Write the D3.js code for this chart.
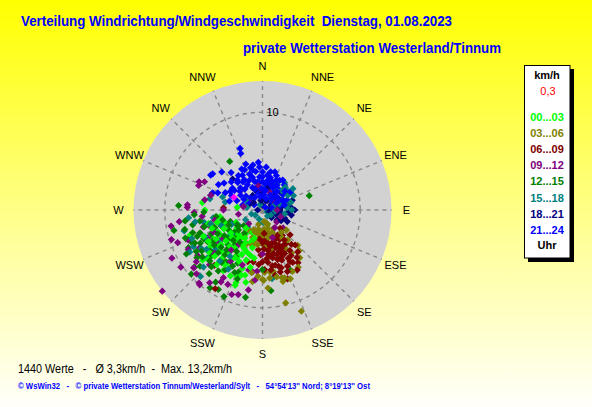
<!DOCTYPE html>
<html>
<head>
<meta charset="utf-8">
<script src="https://cdn.jsdelivr.net/npm/d3@7"></script>
<style>
    html, body { margin: 0; padding: 0; overflow: hidden; }
    svg { display: block; }
    text { font-family: "Liberation Sans", Arial, sans-serif; }
</style>
</head>
<body>
<div id="wind-chart"></div>
<script>
/*
    WINDVERTEILUNG - wind direction / speed scatter
    each value: [direction in degrees, speed in km/h]
*/
const compassLabels = ["N", "NNE", "NE", "ENE", "E", "ESE", "SE", "SSE",
    "S", "SSW", "SW", "WSW", "W", "WNW", "NW", "NNW"]
const ringValues = [10]
const maxSpeed = 13.2
const hourLabels = ["00...03", "03...06", "06...09", "09...12", "12...15", "15...18", "18...21", "21...24"]
const hourColors = ["#00ff00", "#808000", "#800000", "#800080", "#008000", "#008080", "#000080", "#0000ff"]

const h00_03 = [[270,5.9],[261,4.4],[232,4.5],[223,4.4],[208,5.5],[214,6.5],[200,8.2],[213,7.4],[221,5.1],[230,6.0],
    [244,5.1],[241,5.9],[199,6.3],[195,4.8],[209,5.3],[195,6.9],[200,7.9],[193,7.6],[261,4.7],[256,5.7],[251,7.8],
    [220,7.3],[277,6.2],[276,2.6],[240,4.0],[253,4.7],[250,7.9],[230,8.0],[201,7.3],[215,3.0],[225,3.5],[235,3.2],
    [205,2.5],[245,3.0],[220,4.0],[230,5.5],[210,4.2],[200,3.5],[240,5.0],[250,4.0],[218,5.5],[225,6.0],[205,5.0],
    [195,4.0],[235,6.5],[228,7.5],[212,6.0],[216,4.8],[222,5.0],[228,4.2],[234,4.0],[210,5.6],[204,5.8],[198,5.4],
    [215,6.8],[220,6.5],[210,6.8],[226,6.8],[232,7.0],[206,7.5],[198,7.0],[192,6.0],[190,5.0],[200,4.6],[208,3.8],
    [218,3.6],[230,4.9],[238,5.6],[244,4.4],[250,5.5],[255,4.8],[240,6.4],[246,6.6],[222,2.5],[212,3.4],[196,3.0],
    [205,4.4]]
const h03_06 = [[135,5.1],[166,9.8],[159,11.1],[164,7.2],[164,7.6],[146,5.3],[149,4.6],[157,3.9],[180,7.1],[170,6.4],
    [148,6.9],[162,7.3],[173,6.4],[179,7.2],[178,6.4],[188,7.4],[190,2.5],[175,2.0],[160,1.5],[200,3.0],[180,3.5],
    [170,3.0],[195,1.5],[150,2.2],[165,2.5],[185,2.8],[210,2.5],[205,3.8],[175,3.8],[160,2.8],[162,1.6],[215,3.3],
    [195,3.3],[168,4.2],[178,2.6],[184,2.2],[192,2.0],[198,2.4],[204,2.2],[188,3.6],[196,3.8],[170,2.4],[164,2.0],
    [156,2.5],[150,3.0],[145,3.4],[140,4.0],[138,5.6],[142,6.2],[154,7.0],[158,7.6],[168,7.0],[174,7.0],[184,6.8],
    [190,6.5],[176,8.0],[140,3.0],[130,3.2],[172,1.2]]
const h06_09 = [[180,3.1],[163,2.7],[150,3.5],[151,4.7],[152,6.0],[146,6.5],[160,7.5],[167,5.8],[173,4.6],[186,4.1],
    [190,5.4],[136,2.6],[132,3.8],[137,4.9],[169,6.8],[178,6.1],[211,9.4],[221,7.5],[219,6.5],[273,4.0],[196,5.5],
    [180,5.3],[150,7.1],[166,2.4],[164,3.5],[180,3.4],[156,4.8],[159,5.5],[163,5.3],[155,4.0],[165,4.2],[170,3.5],
    [158,3.0],[145,4.2],[175,5.0],[162,6.2],[148,5.5],[168,5.0],[178,4.0],[153,5.0],[142,3.3],[150,4.2],[154,4.4],
    [158,4.6],[162,4.8],[166,4.6],[170,4.8],[174,5.4],[158,5.2],[152,5.6],[146,5.0],[140,4.6],[144,3.8],[148,3.0],
    [154,3.2],[160,3.6],[168,3.8],[172,4.2],[176,3.2],[182,4.6],[184,5.6],[170,5.8],[164,6.0],[156,6.3],[150,6.2],
    [158,6.8],[164,6.6],[172,6.2],[140,5.6],[144,6.0],[160,4.1],[186,3.0],[176,2.4]]
const h09_12 = [[231,13.2],[242,10.5],[249,9.3],[274,7.7],[291,7.0],[296,6.6],[294,7.1],[131,2.8],[221,9.9],[196,9.0],
    [230,9.2],[220,10.0],[210,8.0],[245,4.4],[243,6.3],[239,7.5],[272,7.7],[350,1.9],[254,5.7],[254,6.3],[185,6.3],
    [210,8.5],[235,8.1],[224,7.8],[130,1.9],[189,6.4],[193,6.3],[186,7.2],[240,3.0],[250,3.5],[225,2.0],[260,2.5],
    [300,1.5],[350,2.5],[20,2.0],[60,1.5],[270,4.0],[235,5.0],[215,4.5],[228,6.6],[236,5.8],[246,5.5],[258,5.0],
    [264,6.2],[268,7.0],[248,8.2],[242,8.6],[232,8.6],[226,9.4],[216,9.2],[205,8.4],[200,9.2],[212,6.2],[218,5.2],
    [262,8.6],[280,6.0],[286,5.5],[260,9.5],[252,9.8],[235,10.2],[190,8.3],[200,6.0],[180,4.5],[160,3.0],[145,2.2],
    [110,2.0],[90,1.5],[310,3.0],[280,2.0]]
const h12_15 = [[326,6.0],[73,5.0],[273,8.6],[257,9.3],[191,9.1],[204,9.7],[243,8.5],[228,9.8],[230,9.1],[213,8.8],
    [214,9.6],[209,9.3],[230,4.5],[235,5.5],[240,6.5],[225,5.0],[245,5.8],[250,6.8],[220,6.0],[228,7.0],[236,7.5],
    [242,7.2],[215,6.5],[210,5.5],[232,3.5],[248,4.5],[255,5.5],[225,3.8],[218,4.5],[238,4.0],[252,7.5],[260,6.5],
    [222,7.8],[212,7.2],[205,6.0],[200,7.5],[246,8.0],[234,8.3],[228,8.6],[240,3.0],[230,2.5],[262,4.8],[218,3.0],
    [250,3.5],[155,6.8],[174,8.3],[180,6.1],[201,6.8],[222,5.5],[226,6.3],[232,6.8],[238,6.0],[244,6.7],[248,7.2],
    [254,6.2],[258,7.3],[232,7.8],[238,8.0],[244,7.7],[226,7.5],[216,7.7],[220,8.5],[218,6.8],[224,4.3],[236,4.7],
    [242,5.2],[250,5.2],[256,4.2],[212,5.0],[208,6.5],[204,7.0],[234,6.1],[228,5.7],[236,3.0],[246,3.8],[240,9.0],
    [250,8.4],[256,8.2],[262,8.0],[266,7.0],[268,6.0],[230,3.2],[215,4.0]]
const h15_18 = [[39,3.6],[17,2.1],[56,2.0],[61,2.3],[88,0.9],[96,1.8],[27,1.4],[7,2.3],[111,1.7],[172,7.1],
    [264,7.6],[282,5.5],[255,8.3],[229,7.5],[223,7.8],[223,9.3],[258,6.1],[261,5.1],[238,7.4],[242,8.0],[230,3.6],
    [227,3.9],[221,2.3],[288,4.3],[282,3.9],[176,1.3],[335,0.6],[112,0.5],[234,0.9],[240,2.0],[238,2.9],[232,4.1],
    [234,5.3],[230,6.3],[45,2.8],[70,1.2],[30,3.0],[80,2.5],[50,3.2],[60,3.0],[65,3.5],[75,3.0],[85,2.5],[90,3.0],
    [100,2.3],[55,3.8],[45,3.3],[35,2.5],[70,1.8],[95,1.3],[120,1.0],[140,0.8],[200,1.0],[250,1.2],[280,1.6],
    [300,2.0],[245,3.5],[250,4.5],[255,5.5],[245,6.5],[235,7.0],[260,7.0],[248,7.8],[215,5.8],[220,6.8],[210,7.0],
    [240,8.6],[226,8.4]]
const h18_21 = [[316,4.4],[286,5.5],[28,1.7],[352,2.8],[27,1.1],[67,1.3],[90,1.8],[117,1.1],[0,0.5],[51,2.0],
    [70,2.4],[104,2.1],[76,0.8],[270,0.5],[95,2.6],[84,2.9],[125,1.8],[45,2.6],[326,1.8],[72,3.2],[82,1.5],[107,1.4],
    [60,1.0],[80,2.0],[100,1.5],[110,2.4],[120,2.2],[85,1.2],[95,0.9],[75,2.6],[65,2.0],[55,1.5],[40,1.8],[100,3.0],
    [90,3.3],[115,2.8],[130,1.2],[20,1.0],[350,1.0],[310,1.2],[290,1.5],[105,0.7],[0,1.7],[340,2.2],[15,2.5]]
const h21_24 = [[340,6.7],[339,6.2],[304,6.4],[306,6.3],[313,5.7],[300,5.2],[305,4.8],[344,4.5],[343,3.5],[20,3.0],
    [291,4.9],[306,3.8],[22,3.0],[330,4.1],[346,4.2],[0,3.9],[14,3.4],[28,3.2],[41,3.4],[329,3.0],[350,2.9],[13,2.3],
    [34,2.2],[53,2.6],[304,2.7],[315,1.7],[0,1.2],[51,1.3],[74,1.9],[68,2.7],[302,1.0],[45,0.4],[329,3.6],[356,4.4],
    [318,3.8],[305,3.5],[22,3.8],[8,3.6],[344,1.9],[28,1.7],[298,1.7],[34,2.7],[336,2.5],[34,3.7],[57,3.4],[336,4.5],
    [0,2.9],[79,1.0],[284,2.1],[77,2.3],[289,5.4],[310,2.2],[320,2.8],[325,3.5],[335,3.3],[340,3.9],[345,3.0],
    [355,3.4],[5,2.7],[10,3.1],[15,2.8],[25,2.5],[30,2.9],[38,2.4],[45,2.0],[60,2.0],[65,2.3],[300,2.2],[310,3.0],
    [320,4.0],[350,4.0],[358,2.2],[5,1.6],[18,1.2],[330,1.5],[340,2.3],[0,3.4],[12,4.0],[355,4.9],[348,4.7],
    [333,4.7],[325,4.3],[295,3.5],[315,3.2],[8,2.0],[40,1.5],[62,1.6],[350,1.4],[25,3.4],[30,3.5],[18,4.1],[5,4.4],
    [340,5.0],[320,5.0],[312,4.3],[295,4.2],[285,3.5],[290,2.8],[300,3.8],[50,3.0]]
const lastValue = [[294,3.2]]

const hourGroups = [h00_03, h03_06, h06_09, h09_12, h12_15, h15_18, h18_21, h21_24]

const drawWindChart = () => {

    const width = 592,
        height = 407
    const cx = 262.5,
        cy = 210

    const svg = d3.select("#wind-chart").append("svg")
        .attr("width", width)
        .attr("height", height)

    // yellow to white background
    const grad = svg.append("defs").append("linearGradient")
        .attr("id", "bg")
        .attr("x1", 0).attr("y1", 0).attr("x2", 0).attr("y2", 1)
    grad.append("stop").attr("offset", "0%").attr("stop-color", "#ffff00")
    grad.append("stop").attr("offset", "55%").attr("stop-color", "#ffff90")
    grad.append("stop").attr("offset", "100%").attr("stop-color", "#fffffa")

    svg.append("rect")
        .attr("width", width)
        .attr("height", height)
        .attr("fill", "url(#bg)")

    const r = d3.scaleLinear()
        .domain([0, maxSpeed])
        .range([0, 129])

    const dirAngle = d3.scaleLinear()
        .domain([0, 360])
        .range([0, 2 * Math.PI])

    const plot = svg.append("g")
        .attr("transform", `translate(${cx},${cy})`)

    plot.append("circle")
        .attr("r", r(maxSpeed))
        .attr("fill", "#d2d2d2")

    // radial grid
    plot.append("g")
        .selectAll("line")
        .data(compassLabels)
        .join("line")
        .attr("x1", 0)
        .attr("y1", 0)
        .attr("x2", (d, i) => d3.pointRadial(dirAngle(i * 22.5), r(maxSpeed))[0])
        .attr("y2", (d, i) => d3.pointRadial(dirAngle(i * 22.5), r(maxSpeed))[1])
        .attr("stroke", "#8a8a8a")
        .attr("stroke-width", 1.4)
        .attr("stroke-dasharray", "4,4")

    plot.append("g")
        .selectAll("circle")
        .data(ringValues)
        .join("circle")
        .attr("r", d => r(d))
        .attr("fill", "none")
        .attr("stroke", "#8a8a8a")
        .attr("stroke-width", 1.4)
        .attr("stroke-dasharray", "4,4")

    plot.append("g")
        .selectAll("text")
        .data(ringValues)
        .join("text")
        .attr("x", 4)
        .attr("y", d => -r(d))
        .attr("dy", "0.38em")
        .attr("font-size", 11)
        .attr("fill", "#000")
        .text(d => d)

    // compass labels (the near-vertical ones sit a bit wider)
    const labelPos = i => {
        const p = d3.pointRadial(dirAngle(i * 22.5), 144)
        if (i % 8 === 1 || i % 8 === 7) p[0] += Math.sign(p[0]) * 5
        return p
    }
    plot.append("g")
        .selectAll("text")
        .data(compassLabels)
        .join("text")
        .attr("x", (d, i) => labelPos(i)[0])
        .attr("y", (d, i) => labelPos(i)[1])
        .attr("dy", "0.36em")
        .attr("text-anchor", "middle")
        .attr("font-size", 11)
        .attr("fill", "#000")
        .text(d => d)

    // data points - groups interleaved so the colours mix like in the original
    const points = []
    const maxLen = d3.max(hourGroups, g => g.length)
    for (let i = 0; i < maxLen; i++) {
        hourGroups.forEach((g, gi) => {
            if (g[i]) points.push({ dir: g[i][0], speed: g[i][1], group: gi })
        })
    }

    const diamond = "M0,-3.6L3.6,0L0,3.6L-3.6,0Z"
    const pos = d => d3.pointRadial(dirAngle(d.dir), r(d.speed))

    plot.append("g")
        .selectAll("path")
        .data(points)
        .join("path")
        .attr("d", diamond)
        .attr("fill", d => hourColors[d.group])
        .attr("transform", d => `translate(${pos(d)[0]},${pos(d)[1]})`)

    plot.append("g")
        .attr("fill", "#ff00ff")
        .selectAll("path")
        .data(lastValue.map(d => ({ dir: d[0], speed: d[1] })))
        .join("path")
        .attr("d", diamond)
        .attr("transform", d => `translate(${pos(d)[0]},${pos(d)[1]})`)

    // titles
    svg.append("text")
        .attr("x", 21)
        .attr("y", 26)
        .attr("font-size", 14)
        .attr("font-weight", "bold")
        .attr("fill", "#0000ff")
        .attr("textLength", 431)
        .attr("lengthAdjust", "spacingAndGlyphs")
        .attr("xml:space", "preserve")
        .text("Verteilung Windrichtung/Windgeschwindigkeit  Dienstag, 01.08.2023")

    svg.append("text")
        .attr("x", 243)
        .attr("y", 53)
        .attr("font-size", 14)
        .attr("font-weight", "bold")
        .attr("fill", "#0000ff")
        .attr("textLength", 258)
        .attr("lengthAdjust", "spacingAndGlyphs")
        .text("private Wetterstation Westerland/Tinnum")

    // legend
    const legend = svg.append("g")
    legend.append("rect")
        .attr("x", 528).attr("y", 69)
        .attr("width", 46).attr("height", 193)
        .attr("fill", "#000")
    legend.append("rect")
        .attr("x", 524.5).attr("y", 65.5)
        .attr("width", 45.5).attr("height", 192.5)
        .attr("fill", "#fff")
        .attr("stroke", "#000")
        .attr("stroke-width", 1)

    legend.append("text")
        .attr("x", 547).attr("y", 79)
        .attr("text-anchor", "middle")
        .attr("font-size", 11).attr("font-weight", "bold")
        .attr("fill", "#000")
        .text("km/h")
    legend.append("text")
        .attr("x", 548).attr("y", 95)
        .attr("text-anchor", "middle")
        .attr("font-size", 11)
        .attr("fill", "#ff0000")
        .text("0,3")

    legend.append("g")
        .selectAll("text")
        .data(hourLabels)
        .join("text")
        .attr("x", 547)
        .attr("y", (d, i) => 121 + i * 16.1)
        .attr("text-anchor", "middle")
        .attr("font-size", 11).attr("font-weight", "bold")
        .attr("fill", (d, i) => hourColors[i])
        .text(d => d)

    legend.append("text")
        .attr("x", 547).attr("y", 249)
        .attr("text-anchor", "middle")
        .attr("font-size", 11).attr("font-weight", "bold")
        .attr("fill", "#000")
        .text("Uhr")

    // footer
    svg.append("text")
        .attr("x", 18)
        .attr("y", 373)
        .attr("font-size", 12)
        .attr("fill", "#000")
        .attr("textLength", 214)
        .attr("lengthAdjust", "spacingAndGlyphs")
        .attr("xml:space", "preserve")
        .text("1440 Werte   -   Ø 3,3km/h  -  Max. 13,2km/h")

    svg.append("text")
        .attr("x", 18)
        .attr("y", 388.5)
        .attr("font-size", 8.5)
        .attr("font-weight", "bold")
        .attr("fill", "#0000ff")
        .attr("textLength", 352)
        .attr("lengthAdjust", "spacingAndGlyphs")
        .attr("xml:space", "preserve")
        .text("© WsWin32   -   © private Wetterstation Tinnum/Westerland/Sylt   -   54°54'13'' Nord; 8°19'13'' Ost")
}

drawWindChart()
</script>
</body>
</html>
